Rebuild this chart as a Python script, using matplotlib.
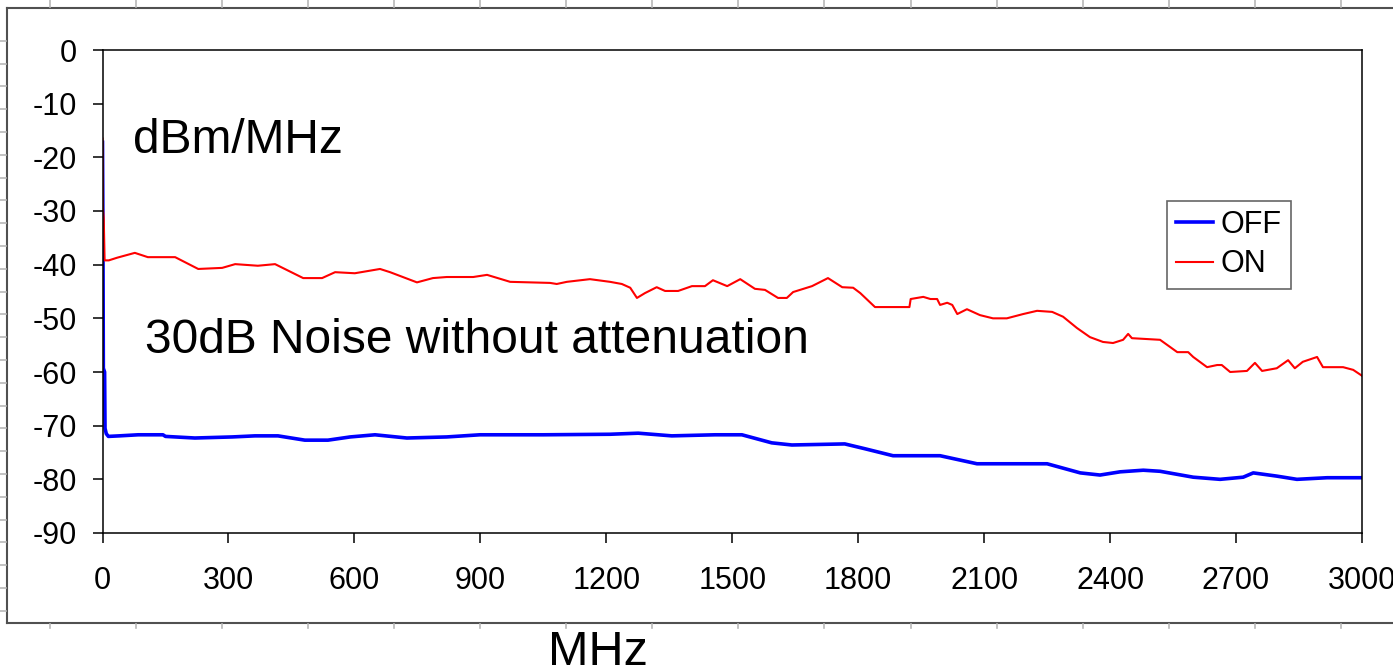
import matplotlib.pyplot as plt
from matplotlib.lines import Line2D

plt.rcParams['font.family'] = ['Liberation Sans', 'DejaVu Sans']
plt.rcParams['axes.unicode_minus'] = False

W, H = 1393, 670

# OFF (blue) trace
off_x = [0, 1, 2, 5, 6, 9, 14, 40, 85, 144, 150, 220, 309, 363, 418, 482, 537, 590,
         649, 725, 820, 899, 1050, 1209, 1276, 1356, 1459, 1523, 1594, 1642, 1768,
         1816, 1883, 1995, 2083, 2162, 2250, 2329, 2376, 2424, 2479, 2519, 2598,
         2662, 2717, 2741, 2797, 2845, 2917, 3000]
off_y = [-17.2, -32.5, -59.3, -60.0, -70.5, -71.5, -72.0, -71.9, -71.7, -71.7, -72.0,
         -72.3, -72.1, -71.9, -71.9, -72.7, -72.7, -72.1, -71.7, -72.3, -72.1, -71.7,
         -71.7, -71.6, -71.4, -71.9, -71.7, -71.7, -73.2, -73.6, -73.4, -74.3, -75.6,
         -75.6, -77.1, -77.1, -77.1, -78.8, -79.2, -78.6, -78.3, -78.5, -79.6, -80.0,
         -79.6, -78.8, -79.4, -80.0, -79.7, -79.7]

# ON (red) trace
on_x = [0, 1, 3, 5, 15, 35, 77, 108, 173, 228, 285, 316, 370, 411, 478, 523, 554, 601,
        661, 685, 749, 787, 820, 883, 916, 971, 1066, 1082, 1106, 1161, 1209, 1237,
        1257, 1273, 1292, 1320, 1340, 1371, 1404, 1435, 1454, 1488, 1519, 1554, 1578,
        1609, 1630, 1645, 1690, 1728, 1762, 1788, 1805, 1840, 1922, 1925, 1955, 1972,
        1988, 1995, 2012, 2024, 2036, 2059, 2090, 2121, 2154, 2193, 2226, 2262, 2288,
        2321, 2352, 2383, 2407, 2431, 2443, 2452, 2519, 2560, 2586, 2598, 2631, 2655,
        2666, 2686, 2726, 2745, 2762, 2797, 2824, 2840, 2859, 2893, 2907, 2955, 2979,
        3000]
on_y = [-16.5, -29.5, -31.5, -39.2, -39.2, -38.7, -37.8, -38.6, -38.6, -40.8, -40.6,
        -39.9, -40.2, -39.9, -42.5, -42.5, -41.4, -41.6, -40.8, -41.4, -43.3, -42.5,
        -42.3, -42.3, -41.9, -43.2, -43.4, -43.6, -43.2, -42.7, -43.2, -43.6, -44.3,
        -46.2, -45.3, -44.2, -44.9, -44.9, -44.0, -44.0, -42.9, -44.0, -42.7, -44.5,
        -44.7, -46.2, -46.2, -45.1, -44.0, -42.5, -44.2, -44.3, -45.3, -47.9, -47.9,
        -46.4, -46.0, -46.4, -46.4, -47.5, -47.1, -47.5, -49.2, -48.3, -49.4, -50.0,
        -50.0, -49.2, -48.6, -48.8, -49.7, -51.8, -53.5, -54.4, -54.6, -54.0, -52.9,
        -53.7, -54.0, -56.3, -56.3, -57.2, -59.1, -58.7, -58.7, -60.0, -59.8, -58.3,
        -59.8, -59.3, -57.8, -59.3, -58.1, -57.2, -59.1, -59.1, -59.6, -60.7]

x_ticks = list(range(0, 3001, 300))
y_ticks = list(range(-90, 1, 10))


def fx(x):
    return x / W


def fy(y):
    return 1 - y / H


fig = plt.figure(figsize=(W / 100, H / 100), dpi=100)
ax = fig.add_axes([fx(102.5), fy(533), fx(1362) - fx(102.5), fy(50) - fy(533)])

ax.plot(off_x, off_y, color='#0000ff', lw=2.6, label='OFF')
ax.plot(on_x, on_y, color='#ff0000', lw=1.5, label='ON')

ax.set_xlim(0, 3000)
ax.set_ylim(-90, 0)
ax.set_xticks(x_ticks)
ax.set_yticks(y_ticks)
ax.tick_params(axis='both', direction='out', length=7.5, width=1.1, labelsize=22)
ax.tick_params(axis='x', pad=16)
ax.tick_params(axis='y', pad=11)
for s in ax.spines.values():
    s.set_linewidth(1.1)
    s.set_color('black')

ax.text(fx(133), fy(153), 'dBm/MHz', transform=fig.transFigure, fontsize=34.5,
        ha='left', va='baseline')
ax.text(fx(145), fy(353), '30dB Noise without attenuation', transform=fig.transFigure,
        fontsize=34.5, ha='left', va='baseline')
fig.text(fx(598), fy(665), 'MHz', fontsize=35, ha='center', va='baseline')

leg = ax.legend(loc='upper left', bbox_to_anchor=(fx(1167), fy(201)),
                bbox_transform=fig.transFigure, borderaxespad=0, fontsize=22,
                frameon=True, fancybox=False, handlelength=1.2, handletextpad=0.25,
                labelspacing=0.3, borderpad=0.3)
leg.get_frame().set_edgecolor('#404040')
leg.get_frame().set_linewidth(1.2)

# outer frame with ruler marks
frame_c = '#505050'
mark_c = '#b8b8b8'
fig.add_artist(Line2D([fx(7), fx(7)], [fy(8), fy(623)], color=frame_c, lw=1.5,
                      transform=fig.transFigure))
fig.add_artist(Line2D([fx(7), fx(W)], [fy(8), fy(8)], color=frame_c, lw=1.5,
                      transform=fig.transFigure))
fig.add_artist(Line2D([fx(7), fx(W)], [fy(623), fy(623)], color=frame_c, lw=1.5,
                      transform=fig.transFigure))
k = 0
while 50 + 86.05 * k < W:
    xm = 50 + 86.05 * k
    fig.add_artist(Line2D([fx(xm), fx(xm)], [fy(0), fy(7)], color=mark_c, lw=1.2,
                          transform=fig.transFigure))
    fig.add_artist(Line2D([fx(xm), fx(xm)], [fy(624), fy(628)], color=mark_c, lw=1.2,
                          transform=fig.transFigure))
    k += 1
k = 0
while 40.7 + 22.8 * k < 623:
    ym = 40.7 + 22.8 * k
    fig.add_artist(Line2D([fx(0), fx(6)], [fy(ym), fy(ym)], color=mark_c, lw=1.2,
                          transform=fig.transFigure))
    k += 1

plt.savefig('out.png', dpi=100)
